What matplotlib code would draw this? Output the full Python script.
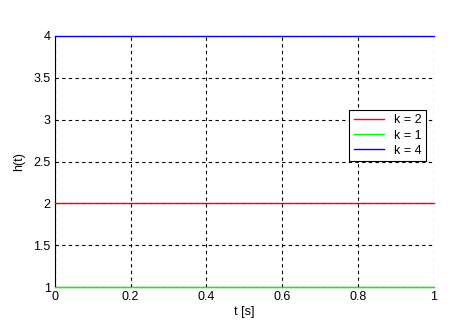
import numpy as np
import matplotlib
matplotlib.use('Agg')
from matplotlib import pyplot as plt

plt.rcParams['font.family'] = ['Liberation Sans', 'DejaVu Sans']
plt.rcParams['font.size'] = 9

t = np.array([0.0, 1.0])
k_values = [2, 1, 4]
labels = ['k = 2', 'k = 1', 'k = 4']
colors = ['#ff0000', '#00ff00', '#0000ff']

fig = plt.figure(figsize=(4.61, 3.30), dpi=100)
ax = fig.add_axes([0.119, 0.130, 0.822, 0.761])

for k, lab, c in zip(k_values, labels, colors):
  ax.plot(t, np.full_like(t, k), color=c, linewidth=1, label=lab,
          clip_on=False, zorder=3)

ax.set_xlim(0, 1)
ax.set_ylim(1, 4)
ax.set_xticks(np.arange(0, 1.01, 0.2))
ax.set_xticklabels(['0', '0.2', '0.4', '0.6', '0.8', '1'])
ax.set_yticks(np.arange(1, 4.01, 0.5))
ax.set_yticklabels(['1', '1.5', '2', '2.5', '3', '3.5', '4'])
ax.grid(True, color='black', linestyle=(0, (3, 3)), linewidth=0.8)
ax.spines['top'].set_visible(False)
ax.spines['right'].set_visible(False)
ax.tick_params(direction='in', length=0, pad=3)
ax.set_xlabel('t [s]', labelpad=2)
ax.set_ylabel('h(t)', labelpad=6)

leg = ax.legend(loc='upper right', bbox_to_anchor=(0.995, 0.73),
                fancybox=False, framealpha=1, edgecolor='black',
                borderpad=0.35, handlelength=2.4, labelspacing=0.25)
leg.get_frame().set_linewidth(0.8)

fig.savefig('out.png', dpi=100)
